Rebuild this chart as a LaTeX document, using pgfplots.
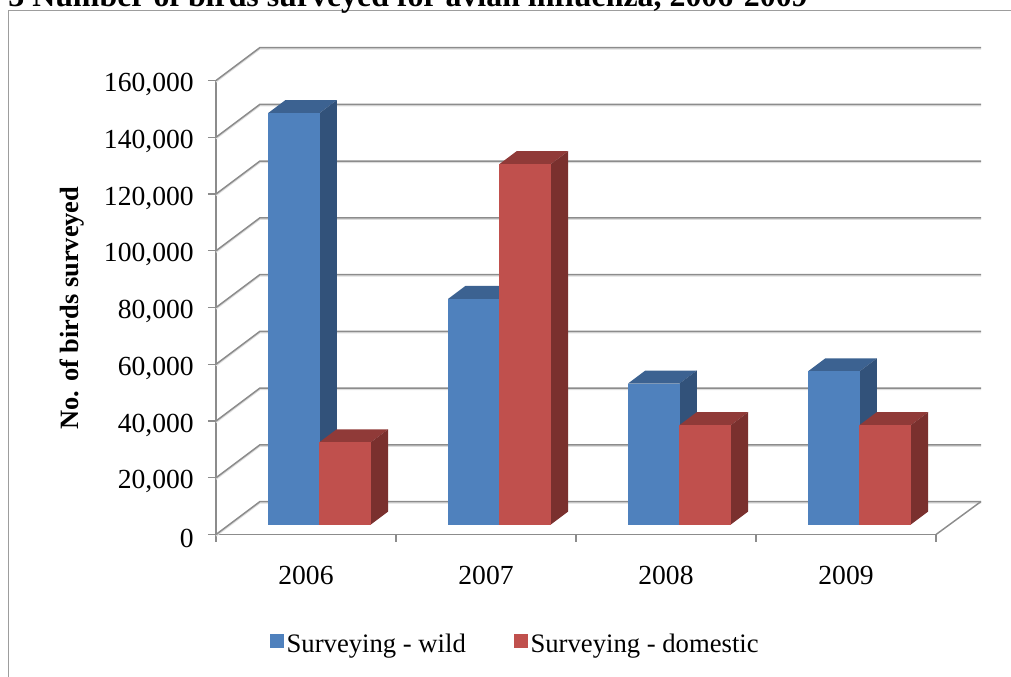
\documentclass[border=0pt]{standalone}
\usepackage{pgfplots}
\usepackage{pgfplotstable}
\pgfplotsset{compat=1.18}
\usepackage{fontspec}
\setmainfont{Liberation Serif}

\definecolor{wild}{RGB}{79,129,189}
\definecolor{wildside}{RGB}{50,82,122}
\definecolor{wildtop}{RGB}{60,98,145}
\definecolor{dom}{RGB}{192,80,77}
\definecolor{domside}{RGB}{122,48,46}
\definecolor{domtop}{RGB}{144,58,56}
\definecolor{gridc}{RGB}{140,140,140}

% faces of a bar: a = across, d = into the depth, h = share of the height
\pgfplotstableread{
a d h
0 0 0
1 0 0
1 0 1
0 0 1
}\frontface
\pgfplotstableread{
a d h
1 0 0
1 1 0
1 1 1
1 0 1
}\sideface
\pgfplotstableread{
a d h
0 0 1
1 0 1
1 1 1
0 1 1
}\topface
% the wall and floor line of one gridline
\pgfplotstableread{
x y
0 0
0.2444 11630
4.25 11630
}\wallline

% left edge, value, colour name
\newcommand{\face}[4]{%
  \addplot[fill=#4,draw=none,forget plot] table[
    x expr=#2+0.0741+\thisrow{a}*0.2861+0.0963*\thisrow{d},
    y expr=\thisrow{h}*#3+3524+4581*\thisrow{d}]{#1};
}
\newcommand{\onebar}[3]{%
  \face{\topface}{#1}{#2}{#3top}
  \face{\sideface}{#1}{#2}{#3side}
  \face{\frontface}{#1}{#2}{#3}
}
\newcommand{\gridat}[1]{%
  \addplot[gridc!30,line width=0.9pt,yshift=-1.1pt,forget plot] table[x=x,y expr=\thisrow{y}+#1]{\wallline};
  \addplot[gridc,line width=1.1pt,forget plot] table[x=x,y expr=\thisrow{y}+#1]{\wallline};
}

\begin{document}
\begin{tikzpicture}[x=1pt,y=1pt]
\path[use as bounding box] (0,0) rectangle (758.25,507);
\clip (0,0) rectangle (758.25,507);
\draw[gridc!85,line width=1pt] (6.4,-5) -- (6.4,499.1) -- (760,499.1);
\node[anchor=base west,font=\bfseries\fontsize{23.9}{28}\selectfont,inner sep=0pt] at (24,502) {\llap{6-3 }Number of birds surveyed for avian influenza, 2006-2009};
\begin{axis}[
    at={(162pt,106.1pt)},
    anchor=south west,
    width=540pt,
    height=340.5pt,
    scale only axis,
    xmin=0, xmax=4,
    ymin=0, ymax=160000,
    scaled y ticks=false,
    clip=false,
    axis lines=left,
    axis line style={-,gridc,line width=1.1pt},
    tick align=outside,
    xtick={0.5,1.5,2.5,3.5},
    xticklabels={2006,2007,2008,2009},
    minor xtick={0,1,2,3,4},
    major x tick style={draw=none},
    minor x tick style={gridc,line width=1pt},
    minor tick length=5.25pt,
    ytick={0,20000,40000,60000,80000,100000,120000,140000,160000},
    yticklabels={0,{20,000},{40,000},{60,000},{80,000},{100,000},{120,000},{140,000},{160,000}},
    major y tick style={gridc,line width=1pt},
    major tick length=6pt,
    x tick label style={yshift=-14pt},
    y tick label style={xshift=-7.2pt,yshift=-3pt},
    tick label style={font=\fontsize{20.7}{24}\selectfont},
    ylabel={\textbf{No. of birds surveyed}},
    every axis y label/.style={at={(axis description cs:-0.2,0.499)},rotate=90,anchor=center,font=\fontsize{19.8}{23}\selectfont},
    legend columns=2,
    legend style={draw=none,fill=none,at={(axis description cs:0.075,-0.241)},anchor=west,
      font=\fontsize{20}{24}\selectfont,inner sep=0pt,outer sep=0pt,
      /tikz/every even column/.append style={column sep=34pt}},
    legend image code/.code={\path[#1] (0pt,-3pt) rectangle (10.5pt,7.5pt);},
    legend cell align=left,
]
\addlegendimage{fill=wild,draw=none}
\addlegendentry{Surveying - wild}
\addlegendimage{fill=dom,draw=none}
\addlegendentry{Surveying - domestic}

\gridat{0}\gridat{20000}\gridat{40000}\gridat{60000}\gridat{80000}
\gridat{100000}\gridat{120000}\gridat{140000}\gridat{160000}
% right end of the floor
\addplot[gridc,line width=1.1pt,forget plot] coordinates {(4,0)(4.25,11630)};

\onebar{0.215}{145000}{wild}
\onebar{0.5}{29000}{dom}
\onebar{1.215}{79500}{wild}
\onebar{1.5}{127000}{dom}
\onebar{2.215}{49700}{wild}
\onebar{2.5}{35000}{dom}
\onebar{3.215}{54000}{wild}
\onebar{3.5}{35000}{dom}
\end{axis}
\end{tikzpicture}
\end{document}
